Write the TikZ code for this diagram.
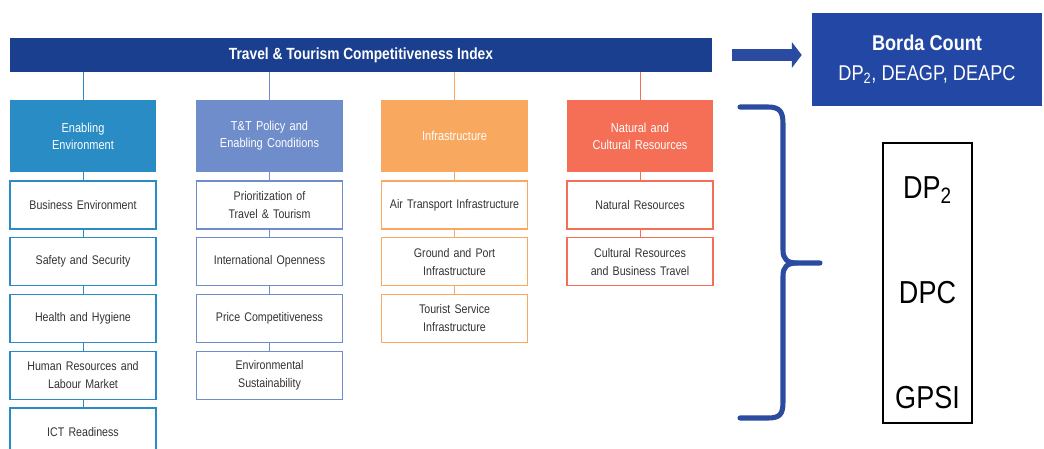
\documentclass[tikz,border=0pt]{standalone}
\usepackage{fontspec}
\setmainfont[FakeStretch=0.85]{Liberation Sans}
\usepackage{xcolor}
\usetikzlibrary{arrows.meta}

\definecolor{ttiblue}{HTML}{1B3F8F}
\definecolor{bordablue}{HTML}{2347A5}
\definecolor{arrowblue}{HTML}{2A4BA0}
\definecolor{envcol}{HTML}{2A8CC4}
\definecolor{polcol}{HTML}{6F8CCB}
\definecolor{infcol}{HTML}{F9A860}
\definecolor{natcol}{HTML}{F46F55}
\definecolor{subtext}{HTML}{333333}

\begin{document}
\begin{tikzpicture}[x=0.025cm,y=-0.025cm,
  cat/.style={fill=#1,minimum width=3.65cm,minimum height=1.8cm,text width=3.4cm,
    align=center,inner sep=0pt,text=white,font=\fontsize{9.2}{12}\selectfont},
  sub/.style={draw=#1,fill=white,line width=1pt,minimum width=3.65cm,minimum height=1.2cm,
    text width=3.45cm,align=center,inner sep=0pt,text=subtext,font=\fontsize{8.9}{12.8}\selectfont},
  link/.style={draw=#1,line width=0.6pt},
  brace/.style={arrowblue,line width=3.6pt,line cap=round}]
\useasboundingbox (0,0) rectangle (1044,448);

% --- index bar and Borda count ---
\node[fill=ttiblue,minimum width=17.55cm,minimum height=0.85cm,inner sep=0pt,text=white,
  font=\bfseries\fontsize{11.5}{14}\selectfont] (tti) at (361,55) {Travel \& Tourism Competitiveness Index};
\node[fill=bordablue,minimum width=5.75cm,minimum height=2.325cm,inner sep=0pt,text=white,align=center,
  font=\fontsize{15.2}{21}\selectfont] (borda) at (927,59.5) {\textbf{Borda Count}\\DP\textsubscript{2}, DEAGP, DEAPC};
\draw[arrowblue,line width=8.5pt,-{Triangle[length=7pt,width=18pt]},shorten <=14.2pt,shorten >=7.1pt]
  (tti.east) -- (tti.east -| borda.west);

% --- pillars ---
\node[cat=envcol] (cat1) at (83,136) {Enabling\\Environment};
\node[cat=polcol] (cat2) at (269.5,136) {T\&T Policy and\\Enabling Conditions};
\node[cat=infcol] (cat3) at (454.5,136) {Infrastructure};
\node[cat=natcol] (cat4) at (640,136) {Natural and\\Cultural Resources};

% --- sub-pillars, one column each ---
\foreach \t [count=\i] in {Business Environment,Safety and Security,Health and Hygiene,
    {Human Resources and\\Labour Market},ICT Readiness}
  \node[sub=envcol] (env\i) at (83,{205+56.75*(\i-1)}) {\t};
\foreach \t [count=\i] in {{Prioritization of\\Travel \& Tourism},International Openness,
    Price Competitiveness,{Environmental\\Sustainability}}
  \node[sub=polcol] (pol\i) at (269.5,{205+56.75*(\i-1)}) {\t};
\foreach \t [count=\i] in {Air Transport Infrastructure,{Ground and Port\\Infrastructure},
    {Tourist Service\\Infrastructure}}
  \node[sub=infcol] (inf\i) at (454.5,{205+56.75*(\i-1)}) {\t};
\foreach \t [count=\i] in {Natural Resources,{Cultural Resources\\and Business Travel}}
  \node[sub=natcol] (nat\i) at (640,{205+56.75*(\i-1)}) {\t};

% bar -> pillar -> sub-pillars
\draw[link=envcol] (tti.south -| cat1) -- (cat1) -- (env1) -- (env2) -- (env3) -- (env4) -- (env5);
\draw[link=polcol] (tti.south -| cat2) -- (cat2) -- (pol1) -- (pol2) -- (pol3) -- (pol4);
\draw[link=infcol] (tti.south -| cat3) -- (cat3) -- (inf1) -- (inf2) -- (inf3);
\draw[link=natcol] (tti.south -| cat4) -- (cat4) -- (nat1) -- (nat2);

% --- brace and methods ---
\draw[brace] (740,107) -- (768,107) .. controls (780,107) and (783,112) .. (783,124)
  -- (783,250) .. controls (783,259) and (787,263) .. (797,263) -- (820,263);
\draw[brace] (797,263) .. controls (787,263) and (783,267) .. (783,276)
  -- (783,402) .. controls (783,414) and (780,418) .. (768,418) -- (740,418);

\node[draw=black,line width=0.8pt,minimum width=2.225cm,minimum height=7cm,inner sep=0pt] (meth) at (927.5,283) {};
\node[font=\fontsize{22.6}{27}\selectfont] (dp2) at (927.5,190) {DP\textsubscript{2}};
\node[font=\fontsize{22.6}{27}\selectfont] (dpc) at (927.5,293) {DPC};
\node[font=\fontsize{22.6}{27}\selectfont] (gpsi) at (927.5,398) {GPSI};
\end{tikzpicture}
\end{document}
